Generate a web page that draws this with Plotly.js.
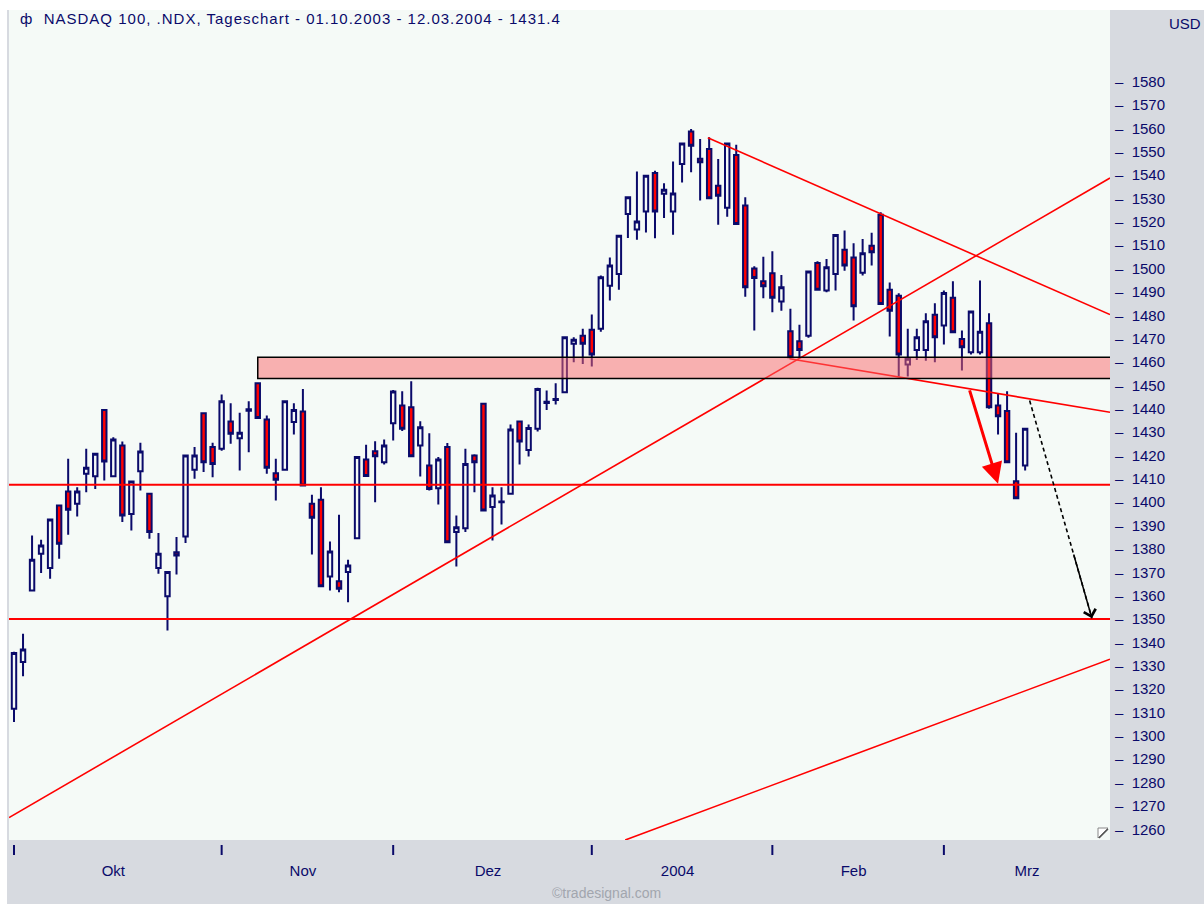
<!DOCTYPE html>
<html><head><meta charset="utf-8">
<script src="https://cdn.plot.ly/plotly-3.0.1.min.js"></script>
<style>html,body{margin:0;padding:0;background:#fff;} #chart{width:1204px;height:904px;} .gtitle{letter-spacing:1px;}</style>
</head><body><div id="chart"></div><script>
// ---- data: NASDAQ 100 daily candles 01.10.2003 - 12.03.2004 ----
const dates = [
'2003-10-01','2003-10-02','2003-10-03','2003-10-06','2003-10-07','2003-10-08','2003-10-09','2003-10-10','2003-10-13','2003-10-14',
'2003-10-15','2003-10-16','2003-10-17','2003-10-20','2003-10-21','2003-10-22','2003-10-23','2003-10-24','2003-10-27','2003-10-28',
'2003-10-29','2003-10-30','2003-10-31',
'2003-11-03','2003-11-04','2003-11-05','2003-11-06','2003-11-07','2003-11-10','2003-11-11','2003-11-12','2003-11-13','2003-11-14',
'2003-11-17','2003-11-18','2003-11-19','2003-11-20','2003-11-21','2003-11-24','2003-11-25','2003-11-26','2003-11-28',
'2003-12-01','2003-12-02','2003-12-03','2003-12-04','2003-12-05','2003-12-08','2003-12-09','2003-12-10','2003-12-11','2003-12-12',
'2003-12-15','2003-12-16','2003-12-17','2003-12-18','2003-12-19','2003-12-22','2003-12-23','2003-12-24','2003-12-26','2003-12-29',
'2003-12-30','2003-12-31',
'2004-01-02','2004-01-05','2004-01-06','2004-01-07','2004-01-08','2004-01-09','2004-01-12','2004-01-13','2004-01-14','2004-01-15',
'2004-01-16','2004-01-20','2004-01-21','2004-01-22','2004-01-23','2004-01-26','2004-01-27','2004-01-28','2004-01-29','2004-01-30',
'2004-02-02','2004-02-03','2004-02-04','2004-02-05','2004-02-06','2004-02-09','2004-02-10','2004-02-11','2004-02-12','2004-02-13',
'2004-02-17','2004-02-18','2004-02-19','2004-02-20','2004-02-23','2004-02-24','2004-02-25','2004-02-26','2004-02-27',
'2004-03-01','2004-03-02','2004-03-03','2004-03-04','2004-03-05','2004-03-08','2004-03-09','2004-03-10','2004-03-11','2004-03-12'];

const openP = [
1311.6,1331.6,1362.2,1377.9,1371.8,1398.6,1404.6,1399.3,1412.2,1411.1,
1439.5,1411.1,1424.3,1395.0,1413.2,1403.6,1371.8,1359.7,1378.6,1385.3,
1413.9,1438.1,1423.6,
1422.9,1434.5,1427.4,1439.2,1450.9,1435.4,1412.4,1413.9,1434.3,1438.8,
1399.3,1401.0,1368.2,1366.2,1370.1,1384.6,1418.3,1421.8,1417.1,
1433.8,1441.4,1440.7,1424.3,1415.7,1406.0,1423.6,1387.2,1388.9,1420.0,
1442.1,1397.9,1400.0,1403.6,1434.5,1422.4,1431.4,1442.5,1443.8,1447.1,
1467.8,1471.3,
1473.8,1474.2,1492.7,1497.7,1523.4,1516.7,1524.4,1540.9,1532.0,1524.4,
1544.8,1558.7,1547.0,1551.2,1535.5,1526.0,1548.6,1527.0,1500.0,1494.6,
1498.0,1485.9,1473.2,1468.9,1471.3,1502.4,1490.6,1497.7,1508.1,1504.8,
1498.2,1509.8,1523.1,1490.9,1488.4,1458.9,1465.2,1465.2,1480.2,
1475.6,1487.5,1469.9,1464.2,1464.2,1476.6,1441.4,1439.0,1409.0,1415.7];

const highP = [
1336.0,1343.7,1385.8,1383.9,1392.6,1398.6,1418.6,1406.4,1422.9,1421.0,
1439.5,1427.8,1426.0,1409.0,1425.4,1403.6,1386.8,1370.1,1385.1,1420.0,
1423.6,1438.1,1425.4,
1446.1,1442.4,1438.3,1443.2,1451.0,1437.1,1418.6,1443.2,1442.4,1448.5,
1403.2,1406.4,1383.2,1394.6,1375.4,1419.3,1424.6,1426.1,1426.8,
1448.0,1447.5,1451.8,1434.7,1429.5,1419.3,1425.3,1394.3,1422.9,1420.5,
1442.1,1406.4,1406.4,1433.3,1435.0,1433.3,1449.0,1447.8,1450.9,1470.6,
1470.6,1474.2,
1480.3,1497.0,1504.8,1514.1,1530.5,1541.6,1539.8,1541.9,1536.5,1545.9,
1553.6,1559.8,1555.5,1556.2,1546.9,1554.0,1553.0,1530.5,1501.0,1505.1,
1507.4,1497.3,1482.8,1476.0,1499.0,1503.1,1504.1,1514.4,1516.3,1510.8,
1512.7,1515.3,1524.1,1494.1,1489.4,1474.2,1474.2,1480.9,1485.2,
1490.6,1494.6,1473.5,1482.0,1494.9,1480.9,1446.4,1447.5,1429.7,1431.4];

const lowP = [
1305.9,1325.5,1362.0,1369.7,1367.2,1375.8,1386.1,1393.9,1404.3,1405.7,
1409.3,1411.0,1391.5,1387.9,1405.0,1384.4,1369.4,1345.1,1369.1,1382.5,
1410.0,1412.9,1410.7,
1422.0,1425.0,1413.6,1421.4,1436.0,1412.2,1400.7,1413.9,1429.0,1407.0,
1377.6,1364.0,1362.2,1361.5,1357.2,1384.6,1411.0,1400.0,1416.1,
1426.4,1430.5,1419.5,1411.0,1405.0,1399.0,1382.9,1372.5,1387.2,1404.3,
1396.5,1383.6,1390.5,1403.6,1416.1,1419.6,1430.3,1439.5,1441.8,1447.0,
1459.9,1459.2,
1458.1,1473.0,1486.3,1490.9,1513.1,1512.3,1515.5,1513.0,1521.7,1514.5,
1536.9,1541.2,1529.1,1530.0,1518.8,1522.2,1519.0,1488.0,1473.5,1487.3,
1481.3,1482.0,1461.5,1462.0,1470.4,1490.5,1489.9,1490.6,1499.1,1477.8,
1497.0,1501.3,1484.9,1470.9,1453.8,1453.8,1460.9,1460.6,1459.9,
1467.5,1472.8,1456.4,1463.2,1463.2,1440.0,1429.0,1417.0,1401.7,1413.6];

const closeP = [
1335.4,1336.9,1375.4,1381.5,1392.6,1382.2,1396.8,1404.6,1414.7,1420.7,
1417.4,1426.8,1394.3,1408.9,1421.7,1387.2,1377.9,1370.1,1377.2,1420.0,
1420.0,1417.1,1416.4,
1443.2,1429.3,1429.7,1439.8,1436.1,1414.7,1409.6,1443.2,1439.5,1407.2,
1393.3,1364.0,1378.9,1363.0,1372.9,1419.3,1411.2,1419.7,1424.3,
1447.4,1431.4,1419.7,1432.1,1405.7,1418.3,1382.9,1389.3,1416.4,1417.1,
1396.5,1402.9,1400.3,1431.1,1426.0,1431.8,1448.5,1443.0,1444.2,1470.6,
1469.5,1467.8,
1463.2,1496.3,1501.3,1514.1,1530.5,1520.2,1539.8,1524.4,1533.8,1532.2,
1553.6,1552.6,1545.5,1530.1,1531.2,1553.6,1519.1,1492.0,1496.0,1492.4,
1487.5,1492.0,1462.1,1465.2,1498.8,1490.9,1500.6,1514.4,1501.3,1483.9,
1506.6,1507.0,1484.9,1482.0,1463.2,1461.4,1470.6,1477.5,1470.6,
1489.6,1472.8,1466.3,1481.6,1473.0,1440.7,1436.8,1417.1,1401.7,1431.4];

const yTicks = [1260,1270,1280,1290,1300,1310,1320,1330,1340,1350,1360,1370,1380,1390,1400,1410,1420,
1430,1440,1450,1460,1470,1480,1490,1500,1510,1520,1530,1540,1550,1560,1570,1580];
const monthLabels = ['Okt','Nov','Dez','2004','Feb','Mrz'];

// analyst drawings: [bar index, price]
const hLevels = [1407.5, 1350];
const zoneBand = [1453, 1462];
const zoneStart = ['2003-11-07'];
const riseUpper = [[-0.55, 1265.0], [121.4, 1538.8]];
const riseLower = [[67.7, 1255.4], [121.4, 1332.8]];
const fallUpper = [[76.85, 1556.0], [121.4, 1480.3]];
const fallLower = [[85.9, 1461.4], [121.4, 1438.5]];
const redArrow = [[105.8, 1448.5], [109.0, 1407.9]];
const blackArrow = [[112.5, 1443.5], [119.4, 1350.3]];

// ---- layout helpers ----
const W = 1204, H = 904, L = 9, R = 1110, T = 10, B = 840;
const navy = '#0a0a6a', red = '#ff0000', bg = '#f5faf7';
const FONT = 'Liberation Sans, Arial, sans-serif';
const px = x => (x - L) / (R - L);
const py = y => (B - y) / (B - T);
const xRange = [-0.554, 121.4];
const yRange = [1255.4, 1610.7];

const idx = dates.map((d, i) => i);
// month starts and label centres
const monthStarts = [];
dates.forEach((d, i) => { if (i === 0 || d.slice(0, 7) !== dates[i - 1].slice(0, 7)) monthStarts.push(i); });
const monthMids = monthStarts.map((s, k) => {
  const last = k + 1 >= monthStarts.length;
  return last ? (s + xRange[1]) / 2 : (s + monthStarts[k + 1] - 1) / 2;
});

const traces = [{
  type: 'candlestick', x: idx, open: openP, high: highP, low: lowP, close: closeP,
  increasing: { line: { color: navy, width: 2 }, fillcolor: bg },
  decreasing: { line: { color: navy, width: 2 }, fillcolor: red },
  whiskerwidth: 0, hoverinfo: 'skip', showlegend: false
}];
hLevels.forEach(v => traces.push({ type: 'scatter', mode: 'lines', x: xRange, y: [v, v],
  line: { color: red, width: 2 }, hoverinfo: 'skip', showlegend: false }));
[riseUpper, riseLower, fallUpper, fallLower].forEach(seg => traces.push({
  type: 'scatter', mode: 'lines', x: seg.map(p => p[0]), y: seg.map(p => p[1]),
  line: { color: red, width: 1.6 }, hoverinfo: 'skip', showlegend: false }));
traces.push({ type: 'scatter', mode: 'lines', x: blackArrow.map(p => p[0]), y: blackArrow.map(p => p[1]),
  line: { color: '#000000', width: 1.6, dash: '4px,3px' }, hoverinfo: 'skip', showlegend: false });

const zoneIdx = dates.indexOf(zoneStart[0]);
const shapes = [
  // white margins left and top
  { type: 'rect', xref: 'paper', yref: 'paper', x0: px(0), x1: px(7), y0: py(H), y1: py(0), fillcolor: '#ffffff', line: { width: 0 }, layer: 'below' },
  { type: 'rect', xref: 'paper', yref: 'paper', x0: px(0), x1: px(W), y0: py(T), y1: py(0), fillcolor: '#ffffff', line: { width: 0 }, layer: 'below' },
  // resistance/support zone
  { type: 'rect', xref: 'x', yref: 'y', x0: zoneIdx, x1: xRange[1] + 5, y0: zoneBand[0], y1: zoneBand[1],
    fillcolor: 'rgba(251,102,105,0.5)', line: { color: '#000000', width: 1.5 }, layer: 'above' }
];
monthStarts.forEach(s => shapes.push({ type: 'line', xref: 'x', yref: 'paper', x0: s, x1: s,
  y0: py(845), y1: py(855), line: { color: navy, width: 2 } }));
// small corner icon
shapes.push({ type: 'path', xref: 'paper', yref: 'paper',
  path: `M ${px(1098)} ${py(838)} L ${px(1098)} ${py(828)} L ${px(1108)} ${py(828)} Z`,
  fillcolor: '#ffffff', line: { color: '#888888', width: 1 } });
shapes.push({ type: 'line', xref: 'paper', yref: 'paper', x0: px(1099), y0: py(838), x1: px(1108), y1: py(829),
  line: { color: '#555555', width: 1.5 } });

const annotations = [
  { xref: 'paper', yref: 'paper', x: px(1185), y: py(24), text: 'USD', showarrow: false,
    font: { family: FONT, size: 15, color: navy }, xanchor: 'center', yanchor: 'middle' },
  { xref: 'paper', yref: 'paper', x: px(606), y: py(893), text: '©tradesignal.com', showarrow: false,
    font: { family: FONT, size: 14, color: '#a2a6ae' }, xanchor: 'center', yanchor: 'middle' },
  { x: redArrow[1][0], y: redArrow[1][1], ax: redArrow[0][0], ay: redArrow[0][1], axref: 'x', ayref: 'y',
    xref: 'x', yref: 'y', text: '', showarrow: true, arrowhead: 2, arrowsize: 1.4, arrowwidth: 3, arrowcolor: red },
  { x: blackArrow[1][0], y: blackArrow[1][1], ax: blackArrow[1][0] - 0.3 * (blackArrow[1][0] - blackArrow[0][0]),
    ay: blackArrow[1][1] - 0.3 * (blackArrow[1][1] - blackArrow[0][1]), axref: 'x', ayref: 'y',
    xref: 'x', yref: 'y', text: '', showarrow: true, arrowhead: 4, arrowsize: 1.6, arrowwidth: 1.5, arrowcolor: '#000000' }
];

const layout = {
  width: W, height: H,
  margin: { l: L, r: W - R, t: T, b: H - B, pad: 0 },
  paper_bgcolor: '#d7dae0', plot_bgcolor: bg,
  showlegend: false,
  title: { text: 'ф\u00a0\u00a0NASDAQ 100, .NDX, Tageschart - 01.10.2003 - 12.03.2004 - 1431.4',
    xref: 'paper', x: px(20), xanchor: 'left', yref: 'container', y: 1 - 19 / H, yanchor: 'middle',
    font: { family: FONT, size: 15, color: navy } },
  xaxis: { range: xRange, tickvals: monthMids, ticktext: monthLabels, ticks: '', showgrid: false,
    zeroline: false, showline: false, rangeslider: { visible: false }, fixedrange: true,
    tickfont: { family: FONT, size: 15, color: navy }, ticklabelstandoff: 20 },
  yaxis: { side: 'right', range: yRange, tickvals: yTicks, ticktext: yTicks.map(v => '–\u00a0\u00a0' + v),
    ticks: '', showgrid: false, zeroline: false, showline: false, fixedrange: true,
    tickfont: { family: FONT, size: 15, color: navy }, ticklabelstandoff: 4 },
  shapes: shapes, annotations: annotations
};

Plotly.newPlot('chart', traces, layout, { displayModeBar: false, staticPlot: true });
</script></body></html>
